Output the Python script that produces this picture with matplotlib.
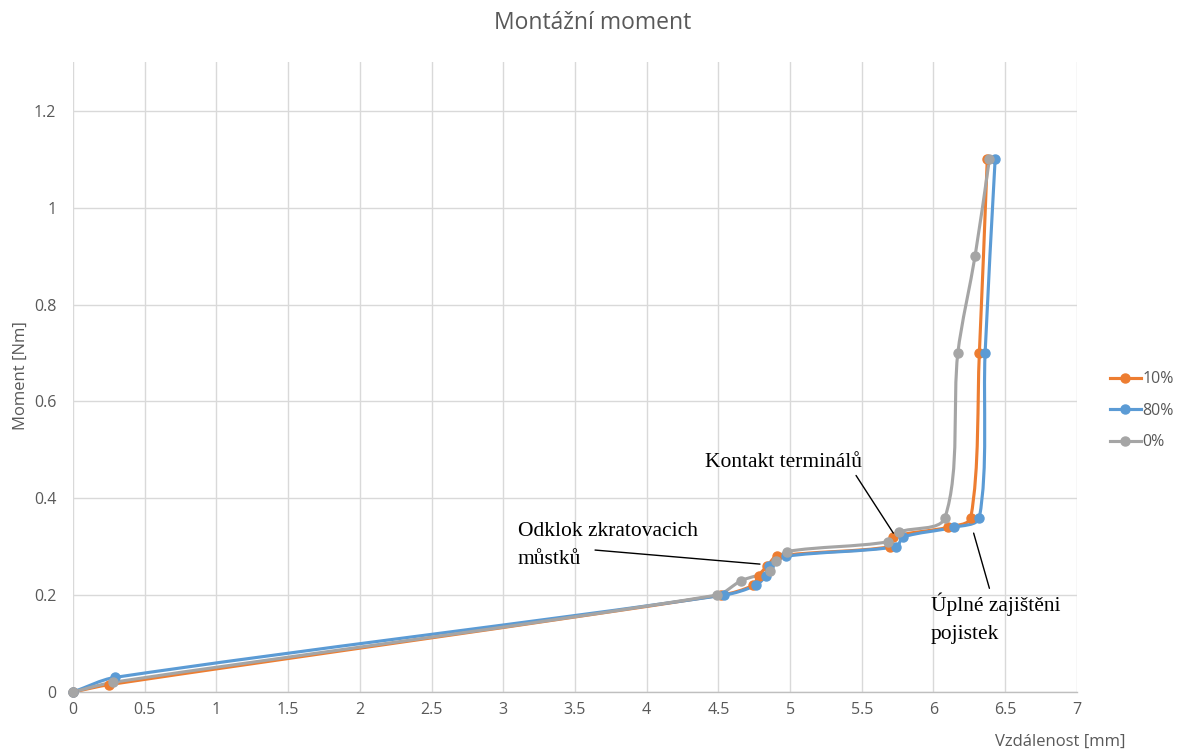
import numpy as np
import matplotlib
matplotlib.use("Agg")
import matplotlib.pyplot as plt
from matplotlib.path import Path
from matplotlib.patches import PathPatch
from matplotlib.lines import Line2D

# ---- data ----
series_names = ["10%", "80%", "0%"]
x_10 = [0, 0.25, 4.52, 4.74, 4.78, 4.84, 4.91, 5.70, 5.72, 6.10, 6.26, 6.32, 6.375]
y_10 = [0, 0.015, 0.20, 0.22, 0.24, 0.26, 0.28, 0.30, 0.32, 0.34, 0.36, 0.70, 1.10]
x_80 = [0, 0.29, 4.54, 4.76, 4.83, 4.85, 4.97, 5.74, 5.79, 6.14, 6.32, 6.36, 6.43]
y_80 = [0, 0.03, 0.20, 0.22, 0.24, 0.26, 0.28, 0.30, 0.32, 0.34, 0.36, 0.70, 1.10]
x_0 = [0, 0.28, 4.49, 4.66, 4.86, 4.90, 4.98, 5.68, 5.76, 6.08, 6.17, 6.29, 6.39]
y_0 = [0, 0.02, 0.20, 0.23, 0.25, 0.27, 0.29, 0.31, 0.33, 0.36, 0.70, 0.90, 1.10]
colors = ["#ED7D31", "#5B9BD5", "#A5A5A5"]

x_ticks = [0, 0.5, 1, 1.5, 2, 2.5, 3, 3.5, 4, 4.5, 5, 5.5, 6, 6.5, 7]
y_ticks = [0, 0.2, 0.4, 0.6, 0.8, 1.0, 1.2]
x_tick_labels = ["0", "0.5", "1", "1.5", "2", "2.5", "3", "3.5", "4", "4.5", "5", "5.5", "6", "6.5", "7"]
y_tick_labels = ["0", "0.2", "0.4", "0.6", "0.8", "1", "1.2"]

# annotation texts, anchors (text) and leader lines (start -> end)
ann_texts = ["Odklok zkratovacich\nmůstků", "Kontakt terminálů", "Úplné zajištěni\npojistek"]
ann_text_pos = [(3.10, 0.303), (4.41, 0.474), (5.98, 0.152)]
ann_line_start = [(3.64, 0.293), (5.46, 0.447), (6.39, 0.214)]
ann_line_end = [(4.79, 0.264), (5.72, 0.328), (6.28, 0.328)]

TXT = "#595959"
UI = "Open Sans"

fig = plt.figure(figsize=(11.86, 7.51), dpi=100)
ax = fig.add_axes([0.0616, 0.0786, 0.908 - 0.0616, 0.917 - 0.0786])
ax.set_xlim(0, 7)
ax.set_ylim(0, 1.3)


def smooth_path(xs, ys, ax, k=0.3):
    # Excel-like smoothed line built from cubic Bezier segments whose tangents
    # follow the neighbouring points; handle lengths scale with each chord
    pts = ax.transData.transform(np.column_stack([xs, ys]))
    n = len(pts)
    tang = []
    for i in range(n):
        a = pts[max(i - 1, 0)]
        b = pts[min(i + 1, n - 1)]
        d = b - a
        L = np.hypot(*d)
        tang.append(d / L if L > 0 else d)
    verts = [pts[0]]
    codes = [Path.MOVETO]
    for i in range(n - 1):
        p1, p2 = pts[i], pts[i + 1]
        L = np.hypot(*(p2 - p1))
        c1 = p1 + tang[i] * L * k
        c2 = p2 - tang[i + 1] * L * k
        verts += [c1, c2, p2]
        codes += [Path.CURVE4] * 3
    verts = ax.transData.inverted().transform(np.array(verts))
    return Path(verts, codes)


series = [(x_10, y_10), (x_80, y_80), (x_0, y_0)]
for (xs, ys), c in zip(series, colors):
    p = smooth_path(xs, ys, ax)
    patch = PathPatch(p, facecolor="none", edgecolor=c, lw=2.25, zorder=3,
                      capstyle="round", joinstyle="round")
    ax.add_patch(patch)
    ax.plot(xs, ys, linestyle="none", marker="o", ms=6.5, color=c, zorder=4, clip_on=False)

# grid & spines
ax.set_xticks(x_ticks)
ax.set_xticklabels(x_tick_labels)
ax.set_yticks(y_ticks)
ax.set_yticklabels(y_tick_labels)
ax.grid(True, color="#D9D9D9", lw=1.0)
ax.set_axisbelow(True)
for s in ["top", "right", "left"]:
    ax.spines[s].set_visible(False)
ax.spines["bottom"].set_color("#BFBFBF")
ax.spines["bottom"].set_linewidth(1.0)
ax.tick_params(axis="both", length=0, colors=TXT, labelsize=11.5)
ax.tick_params(axis="x", pad=7)
ax.tick_params(axis="y", pad=12)
for lab in ax.get_xticklabels() + ax.get_yticklabels():
    lab.set_fontfamily(UI)

fig.text(0.5, 0.970, "Montážní moment", ha="center", va="center", color=TXT,
         fontsize=16.5, family=UI)
fig.text(0.0175, 0.5, "Moment [Nm]", rotation=90, ha="center", va="center",
         color=TXT, fontsize=12, family=UI)
fig.text(0.894, 0.012, "Vzdálenost [mm]", ha="center", va="center",
         color=TXT, fontsize=12, family=UI)

# legend
handles = [Line2D([0], [0], color=c, lw=2.25, marker="o", ms=6.5) for c in colors]
leg = fig.legend(handles, series_names, loc="center left", bbox_to_anchor=(0.924, 0.453),
                 frameon=False, handlelength=1.9, labelspacing=0.98,
                 handletextpad=0.1, labelcolor=TXT, prop={"family": UI, "size": 11.5})

# annotations
serif = "Liberation Serif"
for txt, tp, ls, le in zip(ann_texts, ann_text_pos, ann_line_start, ann_line_end):
    ax.text(tp[0], tp[1], txt, ha="left", va="center", fontsize=15.5, family=serif,
            color="black", linespacing=1.65, zorder=6)
    ax.annotate("", xy=le, xytext=ls,
                arrowprops=dict(arrowstyle="-", color="black", lw=1.0,
                                shrinkA=0, shrinkB=0), zorder=6)

fig.savefig("out.png", dpi=100)
